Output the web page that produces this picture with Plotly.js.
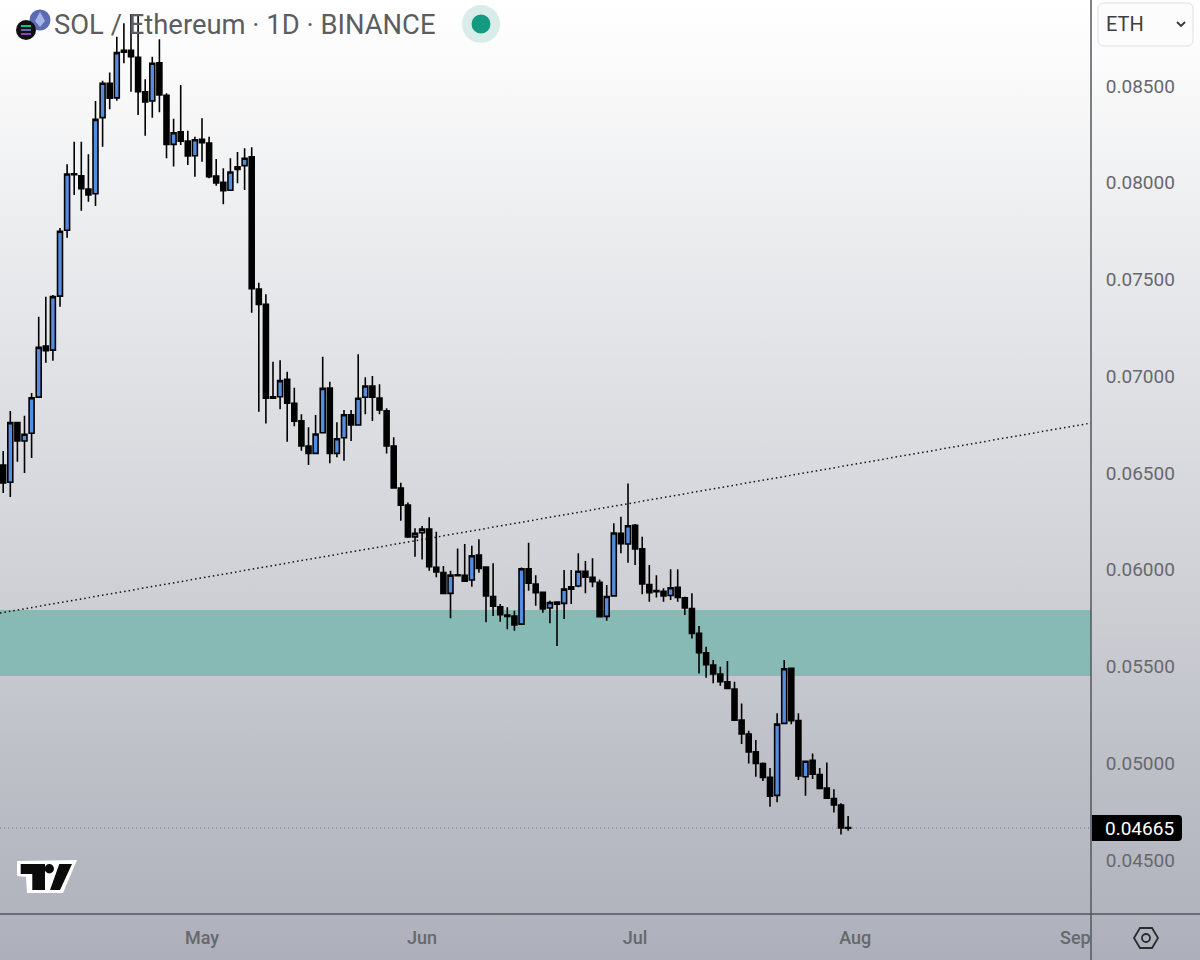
<!DOCTYPE html>
<html><head><meta charset="utf-8">
<script src="https://cdn.plot.ly/plotly-3.0.1.min.js"></script>
<style>
html,body{margin:0;padding:0;width:1200px;height:960px;overflow:hidden;
background:linear-gradient(180deg,#ffffff 0px,#fbfbfb 60px,#e6e7ea 300px,#d2d3d8 560px,#bfc1c9 750px,#adb0ba 960px);}
#chart{width:1200px;height:960px;}
</style></head><body><div id="chart"></div>
<script>
const FIRST_DAY = '2025-04-03';
const opens = [
0.06541,0.06452,0.06760,0.06665,0.06705,0.06892,0.07156,0.07135,0.07414,0.07754,0.08046,0.08036,0.07967,0.07943,0.08336,0.08514,0.08438,0.08684,0.08684,0.08648,0.08470,0.08422,0.08620,0.08451,0.08198,0.08263,0.08215,0.08139,
0.08224,0.08205,0.08034,0.08002,0.07961,0.08069,0.08088,0.08134,0.07450,0.07371,0.06894,0.06894,0.06984,0.06860,0.06770,0.06639,0.06601,0.06708,0.06939,0.06601,0.06682,0.06801,0.06748,0.06891,0.06949,0.06887,0.06821,0.06639,0.06422,0.06334,0.06170,
0.06191,0.06210,0.06012,0.05986,0.05878,0.05974,0.05971,0.05947,0.06076,0.06014,0.05862,0.05809,0.05766,0.05761,0.05719,0.06005,0.05926,0.05883,0.05802,0.05833,0.05826,0.05912,0.05916,0.05992,0.05961,0.05935,0.05759,0.05865,0.06188,0.06133,
0.06229,0.06108,0.05924,0.05893,0.05888,0.05867,0.05909,0.05855,0.05800,0.05671,0.05571,0.05507,0.05461,0.05421,0.05383,0.05223,0.05151,0.05059,0.04999,0.04927,0.04834,0.05206,0.05490,0.05220,0.04930,0.05015,0.04942,0.04872,0.04818,0.04784,0.04668];
const closes = [
0.06448,0.06760,0.06665,0.06700,0.06889,0.07149,0.07132,0.07411,0.07749,0.08045,0.08041,0.07969,0.07936,0.08327,0.08514,0.08436,0.08672,0.08674,0.08651,0.08470,0.08417,0.08617,0.08453,0.08198,0.08258,0.08214,0.08138,0.08222,
0.08207,0.08031,0.07998,0.07958,0.08055,0.08082,0.08126,0.07452,0.07371,0.06886,0.06886,0.06977,0.06860,0.06768,0.06639,0.06601,0.06701,0.06937,0.06601,0.06677,0.06801,0.06748,0.06886,0.06949,0.06891,0.06825,0.06639,0.06422,0.06334,0.06170,0.06188,
0.06210,0.06015,0.05988,0.05878,0.05972,0.05969,0.05941,0.06072,0.06007,0.05864,0.05811,0.05767,0.05759,0.05714,0.06005,0.05930,0.05881,0.05797,0.05831,0.05822,0.05900,0.05899,0.05992,0.05962,0.05938,0.05757,0.05862,0.06190,0.06134,0.06227,
0.06108,0.05926,0.05881,0.05886,0.05864,0.05907,0.05857,0.05802,0.05671,0.05571,0.05509,0.05461,0.05421,0.05387,0.05223,0.05151,0.05059,0.04999,0.04927,0.04830,0.05202,0.05488,0.05220,0.04935,0.05010,0.04944,0.04870,0.04820,0.04784,0.04666,0.04665];
const highs = [
0.06613,0.06820,0.06763,0.06796,0.06913,0.07307,0.07411,0.07419,0.07766,0.08095,0.08212,0.08212,0.08147,0.08422,0.08527,0.08570,0.08754,0.08824,0.08872,0.08872,0.08534,0.08651,0.08741,0.08462,0.08331,0.08505,0.08269,0.08238,
0.08333,0.08238,0.08122,0.08074,0.08126,0.08158,0.08178,0.08183,0.07483,0.07423,0.07075,0.07083,0.07023,0.06940,0.06804,0.06736,0.06799,0.07101,0.06971,0.06762,0.06825,0.06825,0.07113,0.06994,0.07001,0.06958,0.06834,0.06684,0.06449,0.06348,0.06214,
0.06226,0.06271,0.06196,0.06019,0.05995,0.06110,0.06133,0.06124,0.06157,0.06014,0.06033,0.05823,0.05806,0.05788,0.06012,0.06139,0.05972,0.05886,0.05840,0.05836,0.05998,0.05998,0.06085,0.06045,0.06059,0.05950,0.05921,0.06240,0.06274,0.06446,
0.06236,0.06170,0.06024,0.05972,0.05904,0.06002,0.06002,0.05860,0.05878,0.05709,0.05602,0.05533,0.05498,0.05528,0.05421,0.05309,0.05168,0.05120,0.05004,0.04976,0.05258,0.05533,0.05492,0.05258,0.05011,0.05051,0.04976,0.05004,0.04866,0.04793,0.04727];
const lows = [
0.06396,0.06376,0.06558,0.06500,0.06577,0.06887,0.07070,0.07080,0.07359,0.07716,0.07936,0.07855,0.07902,0.07879,0.08186,0.08379,0.08424,0.08617,0.08470,0.08350,0.08243,0.08336,0.08364,0.08126,0.08083,0.08195,0.08091,0.08031,
0.08108,0.08023,0.07984,0.07888,0.07958,0.07997,0.07962,0.07328,0.06816,0.06756,0.06886,0.06829,0.06661,0.06742,0.06615,0.06541,0.06598,0.06705,0.06550,0.06581,0.06563,0.06665,0.06748,0.06804,0.06768,0.06804,0.06601,0.06422,0.06253,0.06164,0.06067,
0.06053,0.05995,0.05961,0.05878,0.05749,0.05969,0.05938,0.05912,0.05984,0.05728,0.05761,0.05731,0.05693,0.05685,0.05719,0.05891,0.05814,0.05778,0.05723,0.05606,0.05745,0.05823,0.05909,0.05878,0.05909,0.05754,0.05736,0.05864,0.06085,0.06036,
0.06024,0.05873,0.05834,0.05857,0.05834,0.05843,0.05834,0.05766,0.05645,0.05464,0.05442,0.05413,0.05400,0.05382,0.05219,0.05099,0.04999,0.04930,0.04908,0.04775,0.04798,0.05202,0.05202,0.04913,0.04832,0.04918,0.04866,0.04818,0.04746,0.04632,0.04651];

const yTicks = [0.085,0.08,0.075,0.07,0.065,0.06,0.055,0.05,0.045];
const monthTicks = ['2025-05-01','2025-06-01','2025-07-01','2025-08-01','2025-09-01'];
const monthLabels = ['May','Jun','Jul','Aug','Sep'];
const zoneLow = 0.05451, zoneHigh = 0.05792;
const lastPrice = 0.04665;
const trendStart = 0.05776, trendEnd = 0.06758;
const X_RANGE = ['2025-04-02 13:12','2025-09-03 05:00'];
const Y_RANGE = [0.04221,0.08944];

const dates = opens.map((_,i)=>{const d=new Date(FIRST_DAY+'T00:00:00Z');d.setUTCDate(d.getUTCDate()+i);return d.toISOString().slice(0,10);});

const W=1091,H=914;
const px=x=>x/W, py=y=>1-y/H;
const P=(x,y)=>px(x)+','+py(y);
const poly=(pts,fill,line,lw)=>({type:'path',xref:'paper',yref:'paper',layer:'above',
  path:'M'+pts.map(p=>P(p[0],p[1])).join('L')+'Z',fillcolor:fill||'rgba(0,0,0,0)',line:{color:line||'rgba(0,0,0,0)',width:lw||0}});
const open=(pts,line,lw)=>({type:'path',xref:'paper',yref:'paper',layer:'above',
  path:'M'+pts.map(p=>P(p[0],p[1])).join('L'),line:{color:line,width:lw}});
const circ=(cx,cy,r,fill,line,lw)=>({type:'circle',xref:'paper',yref:'paper',layer:'above',
  x0:px(cx-r),x1:px(cx+r),y0:py(cy+r),y1:py(cy-r),fillcolor:fill,line:{color:line||'rgba(0,0,0,0)',width:lw||0}});
const rrect=(x0,y0,x1,y1,r,fill,line,lw)=>({type:'path',xref:'paper',yref:'paper',layer:'above',
  path:`M${P(x0+r,y0)}L${P(x1-r,y0)}Q${P(x1,y0)} ${P(x1,y0+r)}L${P(x1,y1-r)}Q${P(x1,y1)} ${P(x1-r,y1)}L${P(x0+r,y1)}Q${P(x0,y1)} ${P(x0,y1-r)}L${P(x0,y0+r)}Q${P(x0,y0)} ${P(x0+r,y0)}Z`,
  fillcolor:fill,line:{color:line||'rgba(0,0,0,0)',width:lw||0}});

const shapes=[
 {type:'rect',xref:'paper',yref:'y',x0:0,x1:1,y0:zoneLow,y1:zoneHigh,fillcolor:'#87b9b5',line:{width:0},layer:'below'},
 {type:'line',xref:'x',yref:'y',x0:X_RANGE[0],x1:X_RANGE[1],y0:trendStart,y1:trendEnd,line:{color:'#111',width:1.5,dash:'1.5px,3px'},layer:'below'},
 {type:'line',xref:'paper',yref:'y',x0:0,x1:1,y0:lastPrice,y1:lastPrice,line:{color:'#77797f',width:1,dash:'1px,3px'},layer:'below'},
 // axis frame
 open([[1091,0],[1091,960]],'#55575c',1.5),
 open([[0,914],[1200,914]],'#55575c',1.5),
 // last price tag
 {type:'path',xref:'paper',yref:'paper',layer:'above',
  path:`M${P(1092,815)}L${P(1178,815)}Q${P(1182,815)} ${P(1182,819)}L${P(1182,837)}Q${P(1182,841)} ${P(1178,841)}L${P(1092,841)}Z`,fillcolor:'#000',line:{width:0}},
 // symbol selector
 rrect(1098,3,1193,46,6,'#fcfcfc','#dfe0e3',1),
 open([[1177,22],[1181,26],[1185,22]],'#333',1.8),
 // header marks
 circ(40,20,10.5,'#5c6cb4'),
 poly([[40,12],[45,21],[40,27],[35,21]],'#a9b4e6'),
 circ(26,30,10,'#111'),
 open([[21,26],[31,26]],'#14f1a0',1.6),
 open([[21,30],[31,30]],'#7f7fe8',1.6),
 open([[21,34],[31,34]],'#b14ff0',1.6),
 circ(481,24,19,'#d9ece9'),
 circ(481,24,9.5,'#129b80'),
 // settings
 poly([[1134,938],[1140,928],[1152,928],[1158,938],[1152,948],[1140,948]],null,'#2a2c30',1.8),
 circ(1146,938,4,'rgba(0,0,0,0)','#2a2c30',1.8),
 // watermark logo
 poly([[17,861],[77,860],[63,893],[27,893],[26,877],[17,876]],'#ffffff'),
 poly([[20.7,864],[45,864],[45,890],[32.3,890],[32.3,874],[20.7,874]],'#0b0b0b'),
 circ(49.3,868.7,4.7,'#0b0b0b'),
 poly([[59.3,864],[72,864],[60,890],[50,890]],'#0b0b0b')
];

const annot=(text,x,y,anchor,size,color,extra)=>Object.assign({text,xref:'paper',yref:'paper',x:px(x),y:py(y),xanchor:anchor,yanchor:'middle',
  showarrow:false,borderpad:0,font:{family:'Roboto, sans-serif',size,color}},extra||{});
const annotations=[
 annot('SOL / Ethereum · 1D · BINANCE',53,25,'left',27.4,'#5c5d60'),
 annot('ETH',1105,24,'left',20,'#3c3e42'),
 annot('0.04665',1175,828,'right',19,'#ffffff')
];

Plotly.newPlot('chart',[{
  type:'candlestick',x:dates,open:opens,high:highs,low:lows,close:closes,
  increasing:{line:{color:'#000',width:1.6},fillcolor:'#558ee0'},
  decreasing:{line:{color:'#000',width:1.6},fillcolor:'#000'},
  whiskerwidth:0,hoverinfo:'skip'
}],{
  width:1200,height:960,autosize:false,showlegend:false,
  margin:{l:0,r:109,t:0,b:46,pad:0},
  paper_bgcolor:'rgba(0,0,0,0)',plot_bgcolor:'rgba(0,0,0,0)',
  boxgap:0,
  xaxis:{type:'date',range:X_RANGE,rangeslider:{visible:false},showgrid:false,zeroline:false,showline:false,
    tickmode:'array',tickvals:monthTicks,ticktext:monthLabels,ticks:'outside',ticklen:7,tickcolor:'rgba(0,0,0,0)',
    tickfont:{family:'Roboto, sans-serif',size:18,color:'#66686d',weight:500}},
  yaxis:{side:'right',range:Y_RANGE,showgrid:false,zeroline:false,showline:false,
    tickmode:'array',tickvals:yTicks,ticktext:yTicks.map(v=>v.toFixed(5)),ticks:'outside',ticklen:10,tickcolor:'rgba(0,0,0,0)',
    tickfont:{family:'Roboto, sans-serif',size:19,color:'#66686d'}},
  shapes,annotations
},{staticPlot:true,displayModeBar:false});
</script></body></html>
